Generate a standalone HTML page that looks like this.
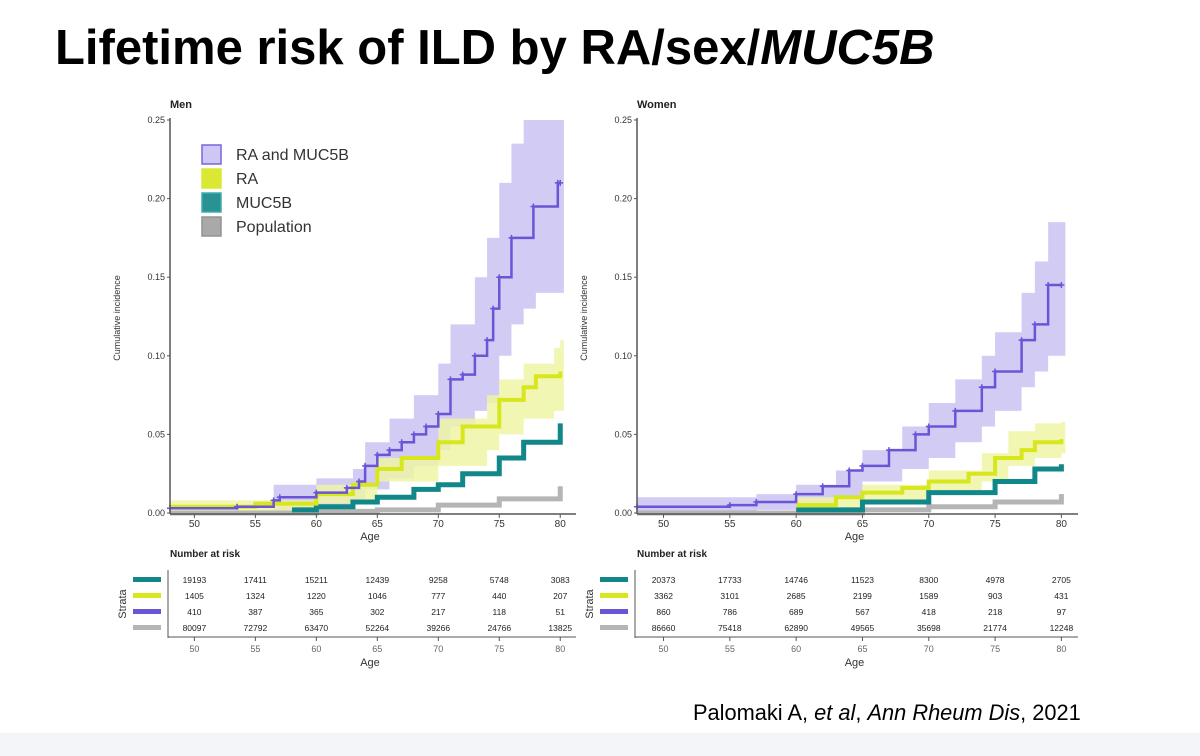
<!DOCTYPE html>
<html><head><meta charset="utf-8"><style>
body{margin:0;width:1200px;height:756px;background:#fff;overflow:hidden;font-family:"Liberation Sans",sans-serif;position:relative}
#title{position:absolute;left:55px;top:20px;font-size:49px;font-weight:bold;color:#000;white-space:nowrap}
#cite{position:absolute;left:693px;top:700px;font-size:21.8px;color:#000;white-space:nowrap}
#strip{position:absolute;left:0;top:733px;width:1200px;height:23px;background:#f3f5f9}
svg{position:absolute;left:0;top:0}
</style></head><body>
<div id="title">Lifetime risk of ILD by RA/sex/<i>MUC5B</i></div>
<svg id="chart" width="1200" height="756"></svg>
<div id="cite">Palomaki A, <i>et al</i>, <i>Ann Rheum Dis</i>, 2021</div>
<div id="strip"></div>
<script>
const ticksX=[50,55,60,65,70,75,80];
const ticksY=[0,0.05,0.10,0.15,0.20,0.25];
const seriesNames=["RA and MUC5B","RA","MUC5B","Population"];
// Men
const menBothAge=[48,53.5,56.5,57,60,62.5,63.5,64,65,66,67,68,69,70,71,72,73,74,74.5,75,76,77.8,79.8,80];
const menBothVal=[0.003,0.004,0.008,0.010,0.013,0.016,0.020,0.030,0.037,0.040,0.045,0.050,0.055,0.063,0.085,0.088,0.100,0.110,0.130,0.150,0.175,0.195,0.210,0.210];
const menRAAge=[48,55,60,63,65,67,70,72,75,77,78,80];
const menRAVal=[0.004,0.006,0.012,0.018,0.028,0.035,0.045,0.055,0.072,0.080,0.087,0.090];
const menMUCAge=[58,60,63,65,68,70,72,75,77,80];
const menMUCVal=[0.002,0.004,0.007,0.010,0.015,0.018,0.025,0.035,0.045,0.057];
const menPopAge=[48,60,65,70,75,80];
const menPopVal=[0.000,0.001,0.002,0.005,0.009,0.017];
const menBothBandAge=[56.5,60,63,64,66,68,70,71,73,74,75,76,77,78,80];
const menBothLo=[0,0.005,0.008,0.015,0.022,0.030,0.040,0.055,0.065,0.070,0.100,0.120,0.130,0.140,0.140];
const menBothHi=[0.018,0.022,0.028,0.045,0.060,0.075,0.095,0.120,0.150,0.175,0.210,0.235,0.250,0.250,0.250];
const menRABandAge=[48,60,65,70,74,75,77,79.5,80];
const menRALo=[0,0.006,0.020,0.030,0.040,0.050,0.060,0.065,0.065];
const menRAHi=[0.008,0.018,0.035,0.060,0.075,0.085,0.095,0.105,0.110];
const menRisk=[[19193,17411,15211,12439,9258,5748,3083],[1405,1324,1220,1046,777,440,207],[410,387,365,302,217,118,51],[80097,72792,63470,52264,39266,24766,13825]];
// Women
const wBothAge=[48,55,57,60,62,64,65,67,69,70,72,74,75,77,78,79,80];
const wBothVal=[0.004,0.005,0.007,0.012,0.017,0.027,0.030,0.040,0.050,0.055,0.065,0.080,0.090,0.110,0.120,0.145,0.145];
const wRAAge=[60,63,65,68,70,73,75,77,78,80];
const wRAVal=[0.005,0.010,0.013,0.016,0.020,0.025,0.035,0.040,0.045,0.047];
const wMUCAge=[60,65,70,75,78,80];
const wMUCVal=[0.002,0.007,0.013,0.020,0.028,0.031];
const wPopAge=[48,65,70,75,80];
const wPopVal=[0.000,0.002,0.004,0.007,0.012];
const wBothBandAge=[48,57,60,63,65,68,70,72,74,75,77,78,79,80];
const wBothLo=[0,0.002,0.005,0.010,0.020,0.028,0.035,0.045,0.055,0.065,0.080,0.090,0.100,0.100];
const wBothHi=[0.010,0.012,0.018,0.027,0.040,0.055,0.070,0.085,0.100,0.115,0.140,0.160,0.185,0.185];
const wRABandAge=[60,65,70,74,76,78,80];
const wRALo=[0.002,0.008,0.014,0.020,0.030,0.035,0.038];
const wRAHi=[0.010,0.018,0.027,0.038,0.052,0.057,0.058];
const wRisk=[[20373,17733,14746,11523,8300,4978,2705],[3362,3101,2685,2199,1589,903,431],[860,786,689,567,418,218,97],[86660,75418,62890,49565,35698,21774,12248]];

const NS="http://www.w3.org/2000/svg";
const svg=document.getElementById('chart');
function mk(tag,attrs,parent){const e=document.createElementNS(NS,tag);for(const k in attrs)e.setAttribute(k,attrs[k]);(parent||svg).appendChild(e);return e;}
const C={both:"#6a55d6",bothBand:"#cac2f2",ra:"#d8e61e",raBand:"#eef4a6",muc:"#12878a",pop:"#b5b5b5"};

function panel(p){
  const g=mk('g',{});
  
  
  const X=a=>p.x0+(a-48)*(p.x1-p.x0)/(80.8-48);
  const Y=v=>513-v*(513-120)/0.25;
  function stepPath(ages,vals){let d=`M${X(ages[0])},${Y(vals[0])}`;for(let i=1;i<ages.length;i++){d+=`H${X(ages[i])}V${Y(vals[i])}`;}return d;}
  function band(ages,lo,hi,color,name){
    let d=`M${X(ages[0])},${Y(hi[0])}`;
    for(let i=1;i<ages.length;i++)d+=`H${X(ages[i])}V${Y(hi[i])}`;
    d+=`H${X(ages[ages.length-1]+0.3)}V${Y(lo[lo.length-1])}`;
    for(let i=ages.length-1;i>0;i--)d+=`H${X(ages[i])}V${Y(lo[i-1])}`;
    d+=`H${X(ages[0])}Z`;
    const e=mk('path',{d:d,fill:color,opacity:0.85},g);
    
    
  }
  band(p.bothBand[0],p.bothBand[1],p.bothBand[2],C.bothBand,'ra-and-muc5b-ci-band');
  band(p.raBand[0],p.raBand[1],p.raBand[2],C.raBand,'ra-ci-band');
  const lines=[[p.pop,C.pop,5,'population-line'],[p.muc,C.muc,5,'muc5b-line'],[p.ra,C.ra,4,'ra-line'],[p.both,C.both,2.5,'ra-and-muc5b-line']];
  lines.forEach(l=>{
    const e=mk('path',{d:stepPath(l[0][0],l[0][1]),fill:'none',stroke:l[1],'stroke-width':l[2]},g);
    
    
  });
  p.both[0].forEach((a,i)=>{
    const m=mk('path',{d:`M${X(a)-3},${Y(p.both[1][i])}h6M${X(a)},${Y(p.both[1][i])-3}v6`,stroke:C.both,'stroke-width':1.5},g);
    
    
  });
  mk('line',{x1:p.x0,y1:118,x2:p.x0,y2:514,stroke:'#555','stroke-width':1.5},g);
  mk('line',{x1:p.x0,y1:514,x2:p.x1+6,y2:514,stroke:'#555','stroke-width':1.5},g);
  ticksY.forEach(v=>{
    mk('line',{x1:p.x0-3,y1:Y(v),x2:p.x0,y2:Y(v),stroke:'#555'},g);
    const t=mk('text',{x:p.x0-5,y:Y(v)+3,'font-size':9,'text-anchor':'end',fill:'#333'},g);t.textContent=v.toFixed(2);
    
    
  });
  ticksX.forEach(a=>{
    mk('line',{x1:X(a),y1:514,x2:X(a),y2:518,stroke:'#555'},g);
    const t=mk('text',{x:X(a),y:527,'font-size':10,'text-anchor':'middle',fill:'#333'},g);t.textContent=a;
    
    
    mk('line',{x1:X(a),y1:637,x2:X(a),y2:641,stroke:'#555'},g);
    const t2=mk('text',{x:X(a),y:652,'font-size':9,'text-anchor':'middle',fill:'#666'},g);t2.textContent=a;
  });
  let t=mk('text',{x:(p.x0+p.x1)/2,y:540,'font-size':11,'text-anchor':'middle',fill:'#333'},g);t.textContent='Age';
  t=mk('text',{x:(p.x0+p.x1)/2,y:666,'font-size':11,'text-anchor':'middle',fill:'#333'},g);t.textContent='Age';
  t=mk('text',{x:p.x0-50,y:318,'font-size':9,'text-anchor':'middle',fill:'#333',transform:`rotate(-90 ${p.x0-50} 318)`},g);t.textContent='Cumulative incidence';
  
  
  t=mk('text',{x:p.x0,y:108,'font-size':11,'font-weight':'bold',fill:'#222'},g);t.textContent=p.label;
  t=mk('text',{x:p.x0,y:557,'font-size':10,'font-weight':'bold',fill:'#222'},g);t.textContent='Number at risk';
  mk('line',{x1:p.x0-2,y1:570,x2:p.x0-2,y2:638,stroke:'#555'},g);
  mk('line',{x1:p.x0-2,y1:637,x2:p.x1+6,y2:637,stroke:'#555'},g);
  t=mk('text',{x:p.x0-44,y:604,'font-size':11,'text-anchor':'middle',fill:'#333',transform:`rotate(-90 ${p.x0-44} 604)`},g);t.textContent='Strata';
  const rowCol=[C.muc,C.ra,C.both,C.pop];
  p.risk.forEach((row,r)=>{
    const y=580+r*16;
    mk('rect',{x:p.x0-37,y:y-3,width:28,height:5,fill:rowCol[r]},g);
    row.forEach((n,i)=>{
      const tt=mk('text',{x:X(ticksX[i]),y:y+3,'font-size':8.5,'text-anchor':'middle',fill:'#222'},g);tt.textContent=n;
      
      
    });
  });
  if(p.legend){
    const cols=[[C.bothBand,C.both],[C.ra,C.ra],[C.muc,'#2aa5a8'],['#a0a0a0','#888']];
    seriesNames.forEach((n,i)=>{
      const y=145+i*24;
      mk('rect',{x:202,y:y,width:19,height:19,fill:cols[i][0],stroke:cols[i][1],'stroke-width':1.5,opacity:0.9},g);
      const lt=mk('text',{x:236,y:y+15,'font-size':16,fill:'#333'},g);lt.textContent=n;
      
      
    });
  }
}
panel({key:'men',label:'Men',x0:170,x1:570,legend:true,
  both:[menBothAge,menBothVal],ra:[menRAAge,menRAVal],muc:[menMUCAge,menMUCVal],pop:[menPopAge,menPopVal],
  bothBand:[menBothBandAge,menBothLo,menBothHi],raBand:[menRABandAge,menRALo,menRAHi],risk:menRisk});
panel({key:'women',label:'Women',x0:637,x1:1072,legend:false,
  both:[wBothAge,wBothVal],ra:[wRAAge,wRAVal],muc:[wMUCAge,wMUCVal],pop:[wPopAge,wPopVal],
  bothBand:[wBothBandAge,wBothLo,wBothHi],raBand:[wRABandAge,wRALo,wRAHi],risk:wRisk});
</script>
</body></html>
